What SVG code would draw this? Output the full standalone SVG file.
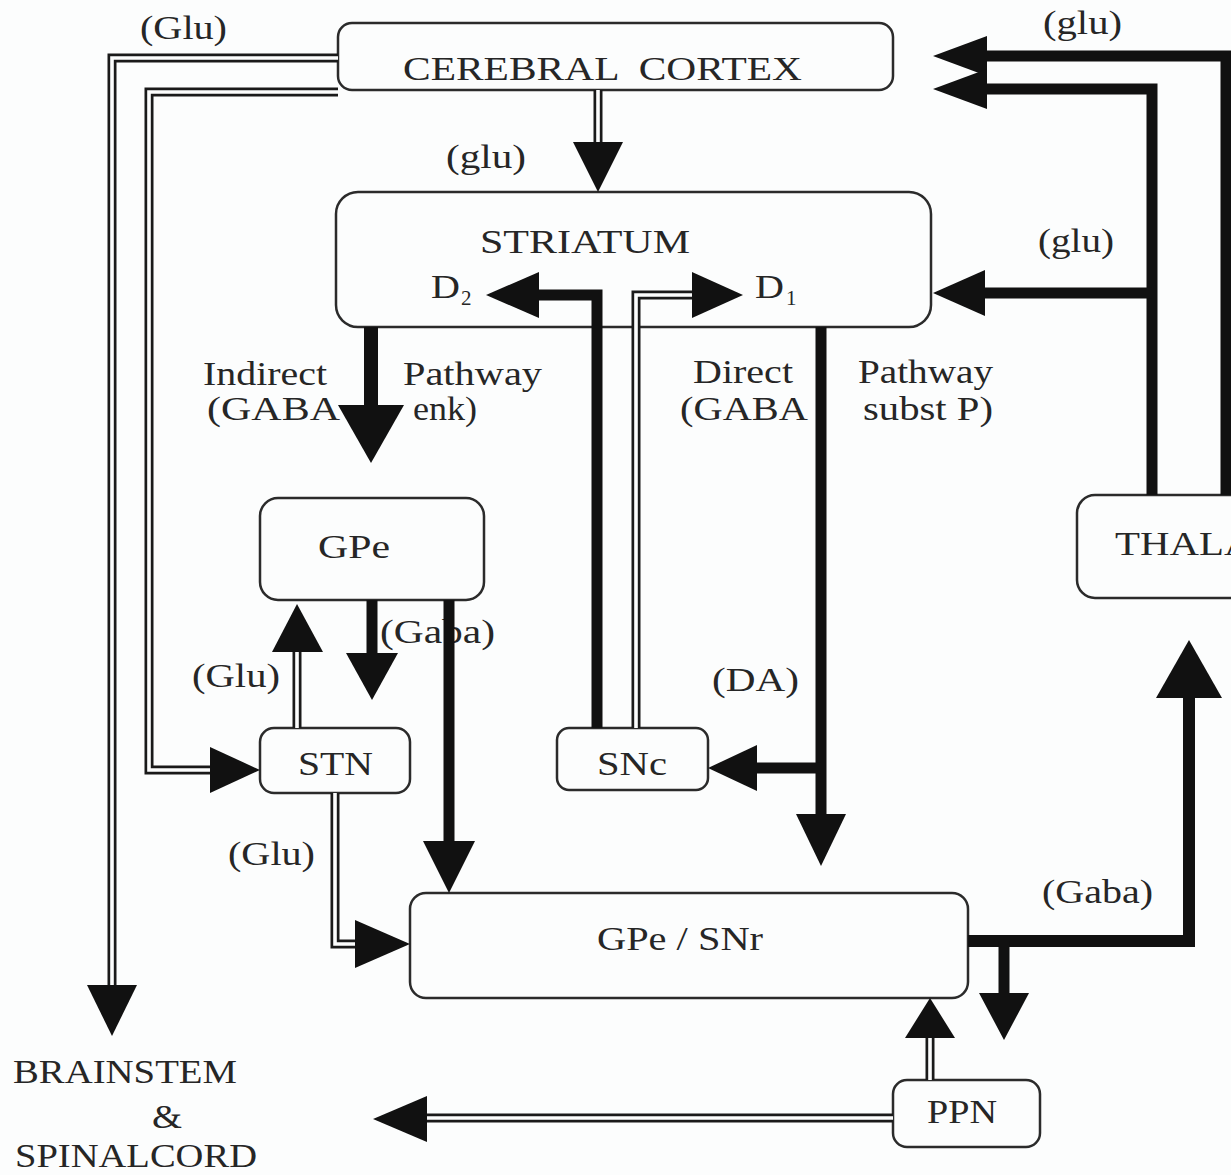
<svg xmlns="http://www.w3.org/2000/svg" width="1231" height="1175" viewBox="0 0 1231 1175">
<style>
.bg{fill:#fcfdfd}
.box{fill:none;stroke:#2b2b2b;stroke-width:2.5}
.t{font-family:"Liberation Serif","Times New Roman",serif;font-size:34px;fill:#262626;lengthAdjust:spacingAndGlyphs}
.sub{font-family:"Liberation Serif","Times New Roman",serif;font-size:21px;fill:#262626}
.thk{fill:none;stroke:#111;stroke-width:11;stroke-linejoin:miter;stroke-linecap:butt}
.dbl{fill:none;stroke:#1a1a1a;stroke-width:9;stroke-linejoin:miter;stroke-linecap:butt}
.dbi{fill:none;stroke:#fcfdfd;stroke-width:3.6;stroke-linejoin:miter;stroke-linecap:butt}
.head{fill:#111}
</style>
<rect class="bg" x="0" y="0" width="1231" height="1175"/>

<g id="cortex">
<rect class="box" x="338" y="23" width="555" height="67" rx="14"/>
<text class="t" x="403" y="80" textLength="399" lengthAdjust="spacingAndGlyphs" style="white-space:pre">CEREBRAL  CORTEX</text>
</g>
<g id="striatum">
<rect class="box" x="336" y="192" width="595" height="135" rx="22"/>
<text class="t" x="480" y="253" textLength="210" lengthAdjust="spacingAndGlyphs">STRIATUM</text>
<text class="t" x="431" y="298" textLength="29" lengthAdjust="spacingAndGlyphs">D</text><text class="sub" x="461" y="305">2</text>
<text class="t" x="755" y="298" textLength="29" lengthAdjust="spacingAndGlyphs">D</text><text class="sub" x="786" y="305">1</text>
</g>
<g id="gpe">
<rect class="box" x="260" y="498" width="224" height="102" rx="18"/>
<text class="t" x="318" y="558" textLength="72" lengthAdjust="spacingAndGlyphs">GPe</text>
</g>
<g id="stn">
<rect class="box" x="260" y="728" width="150" height="65" rx="14"/>
<text class="t" x="298" y="775" textLength="75" lengthAdjust="spacingAndGlyphs">STN</text>
</g>
<g id="snc">
<rect class="box" x="557" y="728" width="151" height="62" rx="12"/>
<text class="t" x="597" y="775" textLength="70" lengthAdjust="spacingAndGlyphs">SNc</text>
</g>
<g id="gpesnr">
<rect class="box" x="410" y="893" width="558" height="105" rx="16"/>
<text class="t" x="597" y="950" textLength="166" lengthAdjust="spacingAndGlyphs">GPe / SNr</text>
</g>
<g id="ppn">
<rect class="box" x="893" y="1080" width="147" height="67" rx="14"/>
<text class="t" x="927" y="1123" textLength="70" lengthAdjust="spacingAndGlyphs">PPN</text>
</g>
<g id="thalamus">
<rect class="box" x="1077" y="495" width="200" height="103" rx="18"/>
<text class="t" x="1115" y="555" textLength="227" lengthAdjust="spacingAndGlyphs">THALAMUS</text>
</g>
<g id="brainstem">
<text class="t" x="13" y="1083" textLength="224" lengthAdjust="spacingAndGlyphs">BRAINSTEM</text>
<text class="t" x="152" y="1128" textLength="30" lengthAdjust="spacingAndGlyphs">&amp;</text>
<text class="t" x="15" y="1167" textLength="242" lengthAdjust="spacingAndGlyphs">SPINALCORD</text>
</g>

<g id="labels">
<text class="t" x="140" y="39" textLength="87" lengthAdjust="spacingAndGlyphs">(Glu)</text>
<text class="t" x="1043" y="34" textLength="79" lengthAdjust="spacingAndGlyphs">(glu)</text>
<text class="t" x="446" y="168" textLength="80" lengthAdjust="spacingAndGlyphs">(glu)</text>
<text class="t" x="1038" y="252" textLength="76" lengthAdjust="spacingAndGlyphs">(glu)</text>
<text class="t" x="203" y="385" textLength="124" lengthAdjust="spacingAndGlyphs">Indirect</text>
<text class="t" x="403" y="385" textLength="139" lengthAdjust="spacingAndGlyphs">Pathway</text>
<text class="t" x="207" y="420" textLength="133" lengthAdjust="spacingAndGlyphs">(GABA</text>
<text class="t" x="413" y="420" textLength="64" lengthAdjust="spacingAndGlyphs">enk)</text>
<text class="t" x="693" y="383" textLength="100" lengthAdjust="spacingAndGlyphs">Direct</text>
<text class="t" x="680" y="420" textLength="128" lengthAdjust="spacingAndGlyphs">(GABA</text>
<text class="t" x="858" y="383" textLength="135" lengthAdjust="spacingAndGlyphs">Pathway</text>
<text class="t" x="863" y="420" textLength="130" lengthAdjust="spacingAndGlyphs">subst P)</text>
<text class="t" x="380" y="643" textLength="115" lengthAdjust="spacingAndGlyphs">(Gaba)</text>
<text class="t" x="192" y="687" textLength="88" lengthAdjust="spacingAndGlyphs">(Glu)</text>
<text class="t" x="712" y="691" textLength="87" lengthAdjust="spacingAndGlyphs">(DA)</text>
<text class="t" x="228" y="865" textLength="87" lengthAdjust="spacingAndGlyphs">(Glu)</text>
<text class="t" x="1042" y="903" textLength="111" lengthAdjust="spacingAndGlyphs">(Gaba)</text>
</g>

<g id="connectors">
<!-- thick (GABA / glu solid) -->
<path class="thk" d="M1226,495 V56 H985"/>
<path class="thk" d="M1152,495 V89 H985"/>
<path class="thk" d="M1152,293 H983"/>
<path class="thk" d="M597,728 V295 H537"/>
<path class="thk" d="M371,327 V407" style="stroke-width:14"/>
<path class="thk" d="M821,327 V816"/>
<path class="thk" d="M821,768 H755"/>
<path class="thk" d="M372,600 V655"/>
<path class="thk" d="M449,600 V843"/>
<path class="thk" d="M968,941 H1189 V696" style="stroke-width:12"/>
<path class="thk" d="M1004,941 V995"/>
<!-- double lines -->
<path class="dbl" d="M598,90 V144"/><path class="dbi" d="M598,90 V144"/>
<path class="dbl" d="M636,728 V295 H694"/><path class="dbi" d="M636,728 V295 H694"/>
<path class="dbl" d="M338,58 H112 V987"/><path class="dbi" d="M338,58 H112 V987"/>
<path class="dbl" d="M338,92 H149 V770 H212"/><path class="dbi" d="M338,92 H149 V770 H212"/>
<path class="dbl" d="M297,728 V650"/><path class="dbi" d="M297,728 V650"/>
<path class="dbl" d="M335,793 V944 H357"/><path class="dbi" d="M335,793 V944 H357"/>
<path class="dbl" d="M930,1080 V1036"/><path class="dbi" d="M930,1080 V1036"/>
<path class="dbl" d="M893,1118 H425"/><path class="dbi" d="M893,1118 H425"/>
<!-- arrowheads -->
<polygon class="head" points="573,142 623,142 598,192"/>
<polygon class="head" points="987,36 987,76 933,56"/>
<polygon class="head" points="987,69 987,109 933,89"/>
<polygon class="head" points="985,270 985,316 933,293"/>
<polygon class="head" points="539,272 539,318 486,295"/>
<polygon class="head" points="692,272 692,318 743,295"/>
<polygon class="head" points="338,405 404,405 371,463"/>
<polygon class="head" points="796,814 846,814 821,866"/>
<polygon class="head" points="757,745 757,791 708,768"/>
<polygon class="head" points="346,653 398,653 372,700"/>
<polygon class="head" points="272,652 323,652 297,604"/>
<polygon class="head" points="423,841 475,841 449,893"/>
<polygon class="head" points="210,747 210,793 260,770"/>
<polygon class="head" points="87,985 137,985 112,1036"/>
<polygon class="head" points="355,920 355,968 410,944"/>
<polygon class="head" points="1156,698 1222,698 1189,640"/>
<polygon class="head" points="979,993 1029,993 1004,1040"/>
<polygon class="head" points="905,1038 955,1038 930,998"/>
<polygon class="head" points="427,1096 427,1142 373,1119"/>
</g>
</svg>
